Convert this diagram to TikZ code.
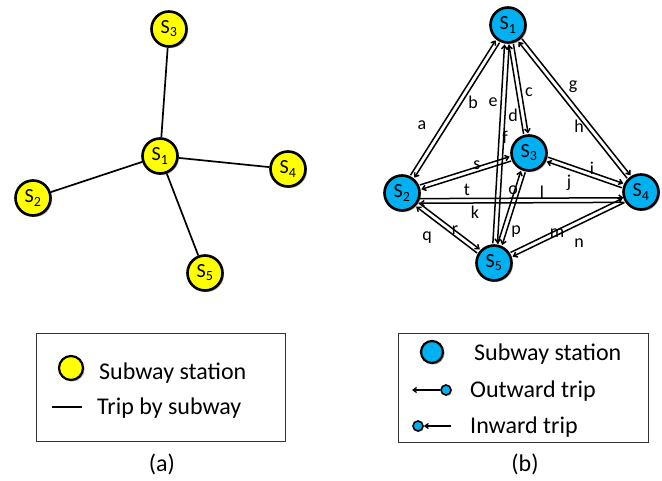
\documentclass[tikz,border=0pt]{standalone}
\usepackage{fontspec}
\setmainfont{Carlito}
\usetikzlibrary{calc,arrows.meta,shadows}
\definecolor{skyb}{RGB}{0,176,240}
\definecolor{ylw}{RGB}{255,255,0}
\pgfdeclarelayer{bg}
\pgfsetlayers{bg,main}
\newcommand\tripdraw[3][]{%
  \draw[trip,#1] ($(#2)!2.3pt!90:(#3)$) -- ($(#3)!2.3pt!-90:(#2)$);
  \draw[trip,#1] ($(#3)!2.3pt!90:(#2)$) -- ($(#2)!2.3pt!-90:(#3)$);}
\begin{document}
\begin{tikzpicture}[x=1pt,y=-1pt,
  stn/.style={circle,draw=black,line width=2.6pt,minimum size=35pt,inner sep=0pt,
    font=\fontsize{20}{20}\selectfont,
    drop shadow={opacity=0.35,shadow xshift=1.5pt,shadow yshift=-1.5pt,fill=black}},
  ystn/.style={stn,fill=ylw},
  bstn/.style={stn,fill=skyb},
  sline/.style={line width=1.7pt,draw=black},
  trip/.style={line width=1.5pt,draw=black,-{Straight Barb[length=3.5pt,width=5.5pt]},
    shorten >=19.5pt,shorten <=19.5pt},
  elab/.style={font=\fontsize{18}{18}\selectfont,inner sep=0pt},
  legtxt/.style={font=\fontsize{24}{24}\selectfont,inner sep=0pt,anchor=base west},
  legbox/.style={draw=black!80,line width=0.9pt},
  smallc/.style={circle,draw=black,line width=1.6pt,fill=skyb,minimum size=10pt,inner sep=0pt,
    drop shadow={opacity=0.3,shadow xshift=1pt,shadow yshift=-1pt,fill=black}}
]
\useasboundingbox (0,0) rectangle (662,481);
% ---------- (a)
\node[ystn] (a1) at (160,156) {S\textsubscript{1}};
\node[ystn] (a2) at (33,198) {S\textsubscript{2}};
\node[ystn] (a3) at (169,29) {S\textsubscript{3}};
\node[ystn] (a4) at (288,169) {S\textsubscript{4}};
\node[ystn] (a5) at (205,273) {S\textsubscript{5}};
\begin{pgfonlayer}{bg}
\draw[sline] (a1) -- (a3);
\draw[sline] (a1) -- (a2);
\draw[sline] (a1) -- (a4);
\draw[sline] (a1) -- (a5);
\end{pgfonlayer}
% ---------- (b)
\node[bstn] (b1) at (508,25) {S\textsubscript{1}};
\node[bstn] (b2) at (402,193) {S\textsubscript{2}};
\node[bstn] (b3) at (529,153) {S\textsubscript{3}};
\node[bstn] (b4) at (641,192) {S\textsubscript{4}};
\node[bstn] (b5) at (494,263) {S\textsubscript{5}};
\coordinate (b2s) at ($(b2)+(0,8)$);
\coordinate (b4s) at ($(b4)+(0,8)$);
\begin{pgfonlayer}{bg}
\tripdraw{b1}{b2}
\tripdraw{b1}{b5}
\tripdraw{b1}{b3}
\tripdraw{b1}{b4}
\tripdraw{b2}{b3}
\tripdraw[shorten >=17.5pt,shorten <=17.5pt]{b2s}{b4s}
\tripdraw{b3}{b4}
\tripdraw{b3}{b5}
\tripdraw{b2}{b5}
\tripdraw{b5}{b4}
\end{pgfonlayer}
\node[elab] (la) at (422,125) {a};
\node[elab] (lb) at (473,102) {b};
\node[elab] (lc) at (529,92) {c};
\node[elab] (ld) at (513,115) {d};
\node[elab] (le) at (493,102) {e};
\node[elab] (lf) at (505,137) {f};
\node[elab] (lg) at (573,87) {g};
\node[elab] (lh) at (579,126) {h};
\node[elab] (li) at (592,168) {i};
\node[elab] (lj) at (569,183) {j};
\node[elab] (lk) at (475,212) {k};
\node[elab] (ll) at (542,192) {l};
\node[elab] (lm) at (557,233) {m};
\node[elab] (ln) at (579,243) {n};
\node[elab] (lo) at (513,190) {o};
\node[elab] (lp) at (516,232) {p};
\node[elab] (lq) at (427,238) {q};
\node[elab] (lr) at (455,230) {r};
\node[elab] (ls) at (477,165) {s};
\node[elab] (lt) at (467,190) {t};
% ---------- legend (a)
\draw[legbox] (36,333) rectangle (285,441);
\node[circle,draw=black,line width=2.2pt,fill=ylw,minimum size=24pt,inner sep=0pt,
  drop shadow={opacity=0.35,shadow xshift=1.5pt,shadow yshift=-1.5pt,fill=black}] (ly) at (71,368) {};
\node[legtxt] (lyt) at (99,380) {Subway station};
\coordinate (ls1) at (52,407);
\coordinate (ls2) at (82,407);
\draw[sline] (ls1) -- (ls2);
\node[legtxt] (lst) at (97,414) {Trip by subway};
\node[font=\fontsize{24}{24}\selectfont,inner sep=0pt] (capa) at (162,464) {(a)};
% ---------- legend (b)
\draw[legbox] (398,333) rectangle (648,442);
\node[circle,draw=black,line width=2.2pt,fill=skyb,minimum size=22pt,inner sep=0pt,
  drop shadow={opacity=0.35,shadow xshift=1.5pt,shadow yshift=-1.5pt,fill=black}] (lb1) at (432,352) {};
\node[legtxt] (lbt) at (474,361) {Subway station};
\node[smallc] (oc) at (446,390) {};
\coordinate (oa) at (412,390);
\draw[line width=1.3pt,-{Straight Barb[length=3.5pt,width=5pt]}] (oc) -- (oa);
\node[legtxt] (ot) at (470,397) {Outward trip};
\node[smallc] (ic) at (418,426) {};
\coordinate (ia) at (451,426);
\draw[line width=1.3pt,-{Straight Barb[length=3.5pt,width=5pt]}] (ia) -- (ic);
\node[legtxt] (it) at (470,433) {Inward trip};
\node[font=\fontsize{24}{24}\selectfont,inner sep=0pt] (capb) at (525,464) {(b)};
\end{tikzpicture}
\end{document}
